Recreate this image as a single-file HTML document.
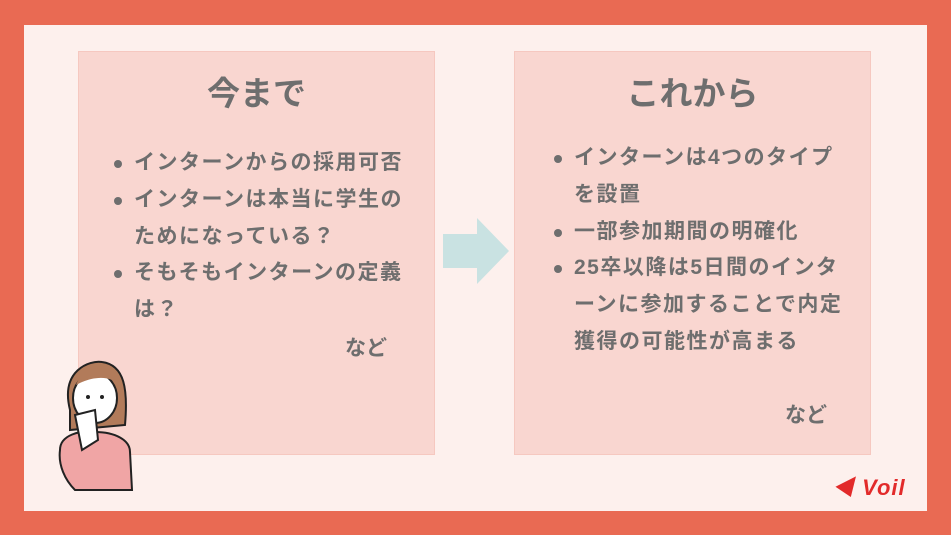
<!DOCTYPE html>
<html><head><meta charset="utf-8"><style>
body{margin:0;width:951px;height:535px;background:#e96a53;position:relative;overflow:hidden;font-family:"Liberation Sans","Noto Sans CJK JP",sans-serif;}
.inner{position:absolute;left:24px;top:25px;width:903px;height:486px;background:#fdf0ed;}
.box{position:absolute;top:51px;height:404px;background:#f9d6d0;border:1px solid #f6c8c0;box-sizing:border-box;color:#6e6e6e;}
.box h2{margin:0;position:absolute;width:100%;text-align:center;font-size:33px;font-weight:bold;line-height:40px;color:#6e6e6e}
.box ul{position:absolute;margin:0;padding:0;list-style:none;font-size:21px;letter-spacing:1.5px;font-weight:bold;line-height:36.8px}
.box li{position:relative;padding-left:24px}
.box li:before{content:"";position:absolute;left:4px;top:15px;width:8px;height:8px;border-radius:50%;background:#6e6e6e}
.nado{position:absolute;font-size:21px;font-weight:bold;color:#6e6e6e}
</style></head><body>
<div class="inner"></div>
<div class="box" style="left:78px;width:357px">
<h2 style="top:22px">今まで</h2>
<ul style="left:31px;top:93px;width:300px">
<li>インターンからの採用可否</li>
<li>インターンは本当に学生のためになっている？</li>
<li>そもそもインターンの定義は？</li>
</ul>
<div class="nado" style="left:266px;top:280px">など</div>
</div>
<div class="box" style="left:514px;width:357px">
<h2 style="top:22px">これから</h2>
<ul style="left:35px;top:88px;width:300px">
<li>インターンは4つのタイプを設置</li>
<li>一部参加期間の明確化</li>
<li>25卒以降は5日間のインターンに参加することで内定獲得の可能性が高まる</li>
</ul>
<div class="nado" style="left:270px;top:347px">など</div>
</div>
<svg style="position:absolute;left:443px;top:218px" width="66" height="66"><polygon points="0,16 34,16 34,0 66,33 34,66 34,50 0,50" fill="#c9e2e2"/></svg>
<svg style="position:absolute;left:40px;top:340px" width="120" height="160" viewBox="0 0 120 160">
<path d="M30,70 C20,30 50,20 62,22 C85,25 88,50 85,85 L30,90Z" fill="#b27b5a" stroke="#222" stroke-width="2"/>
<ellipse cx="55" cy="58" rx="22" ry="25" fill="#fff" stroke="#222" stroke-width="2"/>
<path d="M36,45 C45,40 60,35 72,40 L70,30 C55,25 40,32 36,45Z" fill="#b27b5a"/>
<path d="M20,110 C20,95 40,90 55,92 C75,92 90,100 90,112 L92,150 L35,150 C25,140 18,125 20,110Z" fill="#f0a5a5" stroke="#222" stroke-width="2"/>
<path d="M35,75 L55,70 L58,100 L42,110Z" fill="#fff" stroke="#222" stroke-width="2"/>
<circle cx="48" cy="57" r="2" fill="#222"/><circle cx="62" cy="57" r="2" fill="#222"/>
</svg>
<div style="position:absolute;left:832px;top:470px;color:#e22a2a;font-weight:bold;font-style:italic;font-size:22px;letter-spacing:1px">◀ Voil</div>
</body></html>
